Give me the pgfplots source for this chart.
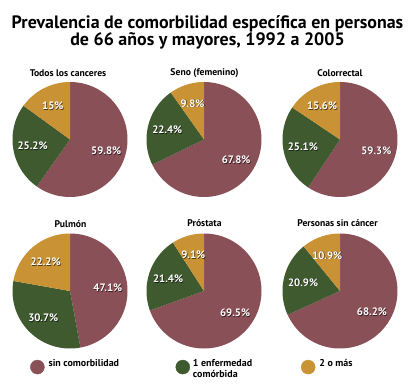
\documentclass[border=0pt]{standalone}
\usepackage{pgfplots}
\pgfplotsset{compat=1.18}
\usepackage{fontspec}
\setmainfont{PT Sans}
\definecolor{cA}{HTML}{8A5058}
\definecolor{cB}{HTML}{3F5A2F}
\definecolor{cC}{HTML}{C99234}
\newcommand{\labfont}{\bfseries\fontsize{10.8}{12}\selectfont}
\newcommand{\lab}[2]{%
  \node[text=black, opacity=0.6, font=\labfont] at ([xshift=0.7bp,yshift=-0.7bp]axis cs:{0.66*cos(#1)},{0.66*sin(#1)}) {#2};
  \node[text=white, font=\labfont] at (axis cs:{0.66*cos(#1)},{0.66*sin(#1)}) {#2};}
% #1 x, #2 y, #3 a (sin), #4 b (1 enf), #5 c (2 o mas)
\newcommand{\pie}[5]{%
\begin{axis}[at={(#1bp,-#2bp)}, anchor=center, scale only axis, width=115bp, height=115bp,
  hide axis, xmin=-1, xmax=1, ymin=-1, ymax=1, clip=false]
\pgfmathsetmacro\pieEa{90-3.6*#3}
\pgfmathsetmacro\pieEb{90-3.6*(#3+#4)}
\addplot[fill=cA, draw=none, domain=\pieEa:90, samples=90] ({cos(x)},{sin(x)}) -- (0,0) -- cycle;
\addplot[fill=cB, draw=none, domain=\pieEb:\pieEa, samples=60] ({cos(x)},{sin(x)}) -- (0,0) -- cycle;
\addplot[fill=cC, draw=none, domain=-270:\pieEb, samples=60] ({cos(x)},{sin(x)}) -- (0,0) -- cycle;
\lab{90-1.8*#3}{#3\%}
\lab{90-3.6*#3-1.8*#4}{#4\%}
\lab{90-3.6*(#3+#4)-1.8*#5}{#5\%}
\end{axis}}
\begin{document}
\begin{tikzpicture}
\useasboundingbox (0,0) rectangle (412bp,-384bp);
\node[align=center, font=\bfseries\fontsize{18}{17.5}\selectfont] at (207.5bp,-32.5bp)
  {Prevalencia de comorbilidad específica en personas\\de 66 años y mayores, 1992 a 2005};
\pie{70}{139.5}{59.8}{25.2}{15}
\pie{204}{139.5}{67.8}{22.4}{9.8}
\pie{340}{139.5}{59.3}{25.1}{15.6}
\pie{70}{291}{47.1}{30.7}{22.2}
\pie{204}{291}{69.5}{21.4}{9.1}
\pie{340}{291}{68.2}{20.9}{10.9}
\begin{scope}[font=\bfseries\fontsize{9.7}{10}\selectfont]
\node at (68bp,-73bp) {Todos los canceres};
\node at (204.5bp,-73bp) {Seno (femenino)};
\node at (340bp,-73bp) {Colorrectal};
\node at (70.5bp,-224bp) {Pulmón};
\node at (204.5bp,-223bp) {Próstata};
\node at (337.5bp,-223bp) {Personas sin cáncer};
\end{scope}
\begin{axis}[at={(30bp,-377bp)}, anchor=south west, scale only axis, width=380bp, height=20bp,
  hide axis, xmin=0, xmax=1, ymin=0, ymax=1,
  legend columns=3, legend cell align=left,
  legend style={at={(0,0.5)}, anchor=west, draw=none, fill=none, inner sep=0pt,
    column sep=0pt, nodes={inner sep=0pt, font=\bfseries\fontsize{10}{10}\selectfont}}]
\addlegendimage{legend image code/.code={\fill[cA] (7bp,-3bp) circle (7bp);}}
\addlegendentry{\makebox[131bp][l]{\hspace{4bp}sin comorbilidad}}
\addlegendimage{legend image code/.code={\fill[cB] (7bp,-3bp) circle (7bp);}}
\addlegendentry{\makebox[111bp][l]{\hspace{3bp}\begin{tabular}[t]{@{}l@{}}1 enfermedad\\[0.5bp]comórbida\end{tabular}}}
\addlegendimage{legend image code/.code={\fill[cC] (7bp,-3bp) circle (7bp);}}
\addlegendentry{\makebox[60bp][l]{\hspace{4bp}2 o más}}
\end{axis}
\end{tikzpicture}
\end{document}
